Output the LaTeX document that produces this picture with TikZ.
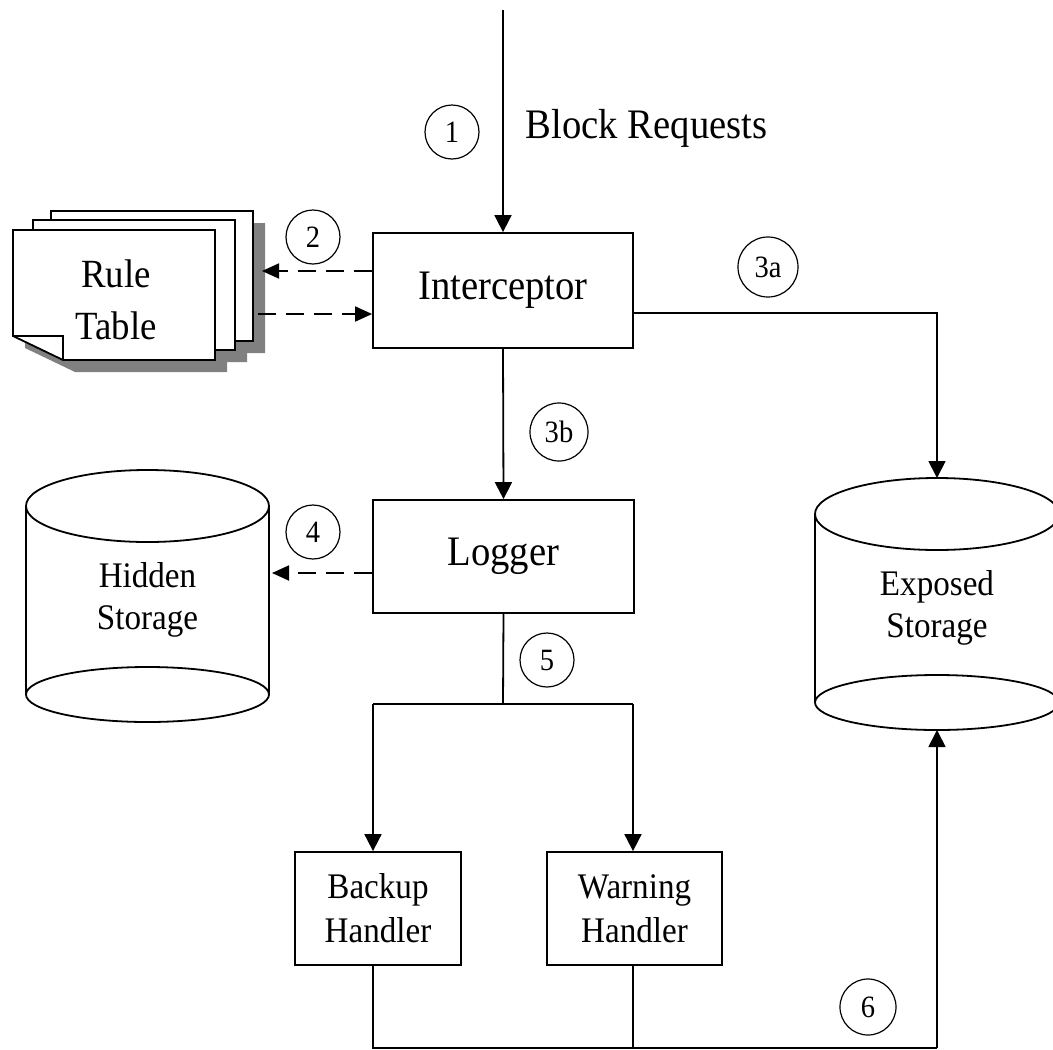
\documentclass[tikz,border=0pt]{standalone}
\usepackage{fontspec}
\setmainfont[FakeStretch=0.92]{Liberation Serif}
\usepackage{tikz}
\usetikzlibrary{arrows.meta}
\usetikzlibrary{calc}
\definecolor{shadowgray}{HTML}{808080}
\tikzset{
	blk/.style={draw, line width=1.8pt, fill=white, align=center, inner sep=0pt},
	cyl/.style={align=center, inner sep=0pt, outer sep=0pt},
	numc/.style={draw, circle, line width=1.2pt, minimum size=54pt, inner sep=0pt, font=\fontsize{31}{31}\selectfont},
	arr/.style={line width=1.8pt, -{Triangle[length=17pt,width=17pt]}},
	dasharr/.style={line width=1.8pt, dash pattern=on 18pt off 10pt, -{Triangle[length=17pt,width=15pt]}}
}

\begin{document}
\begin{tikzpicture}[x=1pt, y=-1pt, line width=1.8pt]
			\useasboundingbox (0,0) rectangle (1053,1050);
			\foreach \sx/\sy in {38/-19, 20/-10, 0/0}
				\fill[shadowgray, shift={(\sx+12,\sy+12)}] (13,230) -- (215,230) -- (215,360) -- (63,360) -- (13,336) -- cycle;
			\foreach \sx/\sy in {38/-19, 20/-10, 0/0}{
				\filldraw[fill=white, shift={(\sx,\sy)}] (13,230) -- (215,230) -- (215,360) -- (63,360) -- (13,336) -- cycle;
				\draw[shift={(\sx,\sy)}] (13,336) -- (63,336) -- (63,360);
			}
			\node[cyl, font=\fontsize{40}{52}\selectfont] (rule) at (116,300) {Rule\\Table};
			\coordinate (tabR1) at (262,271);
			\coordinate (tabR2) at (258,314);

			\node[blk, minimum width=260pt, minimum height=115pt, font=\fontsize{42}{50}\selectfont] (icpt) at (503,290.5) {Interceptor};
			\node[blk, minimum width=261pt, minimum height=113pt, font=\fontsize{42}{50}\selectfont] (logger) at (503.5,556.5) {Logger};
			\node[blk, minimum width=166pt, minimum height=113pt, font=\fontsize{36}{44}\selectfont] (backup) at (378,908.5) {Backup\\Handler};
			\node[blk, minimum width=175pt, minimum height=113pt, font=\fontsize{36}{44}\selectfont] (warn) at (634.5,908.5) {Warning\\Handler};

			\node[cyl, minimum width=243pt, minimum height=188.5pt, font=\fontsize{36}{42}\selectfont] (hidden) at (147.5,600.25) {Hidden\\Storage};
			\draw (hidden.north) ellipse [x radius=121.5pt, y radius=36pt];
			\draw (hidden.south) ellipse [x radius=121.5pt, y radius=27.5pt];
			\draw (hidden.north west) -- (hidden.south west) (hidden.north east) -- (hidden.south east);

			\node[cyl, minimum width=244pt, minimum height=188.5pt, font=\fontsize{36}{42}\selectfont] (exposed) at (937,608.25) {Exposed\\Storage};
			\draw (exposed.north) ellipse [x radius=122pt, y radius=36pt];
			\draw (exposed.south) ellipse [x radius=122pt, y radius=27.5pt];
			\draw (exposed.north west) -- (exposed.south west) (exposed.north east) -- (exposed.south east);
			\path (exposed.north) ++(0,-36) coordinate (exptop);
			\path (exposed.south) ++(0,27.5) coordinate (expbot);

			\node[anchor=base west, inner sep=0pt, font=\fontsize{42}{50}\selectfont] (req) at (525,138) {Block Requests};
			\node[numc] (n1) at (452,132) {1};
			\node[numc] (n2) at (313,237) {2};
			\node[numc, minimum size=60pt] (n3a) at (768,267) {3a};
			\node[numc, minimum size=58pt] (n3b) at (559,432) {3b};
			\node[numc] (n4) at (313,532) {4};
			\node[numc] (n5) at (547,660) {5};
			\node[numc, minimum size=56pt] (n6) at (868,1007) {6};

			\coordinate (reqtop) at (503,10);
			\coordinate (logL) at ([yshift=-16.5pt]logger.west);
			\coordinate (split) at (503,704);
			\coordinate (splitL) at (373,704);
			\coordinate (splitR) at (633,704);
			\coordinate (baseL) at (373,1048);
			\coordinate (baseR) at (937,1048);

			\draw[arr] (reqtop) -- (icpt.north);
			\draw[dasharr] (icpt.west |- tabR1) -- (tabR1);
			\draw[dasharr] (tabR2) -- (icpt.west |- tabR2);
			\draw[arr] ([yshift=-22.5pt]icpt.east) -| (exptop);
			\draw[arr] (icpt.south) -- (logger.north);
			\draw[dasharr] (logL) -- ($(logL -| hidden.east)+(3,0)$);
			\draw (logger.south) -- (split);
			\draw (splitL) -- (splitR);
			\draw[arr] (splitL) -- (splitL |- backup.north);
			\draw[arr] (splitR) -- (splitR |- warn.north);
			\draw (baseL |- backup.south) -- (baseL) -- (baseR);
			\draw (splitR |- warn.south) -- (splitR |- baseL);
			\draw[arr] (baseR) -- (expbot);
		\end{tikzpicture}
\end{document}
